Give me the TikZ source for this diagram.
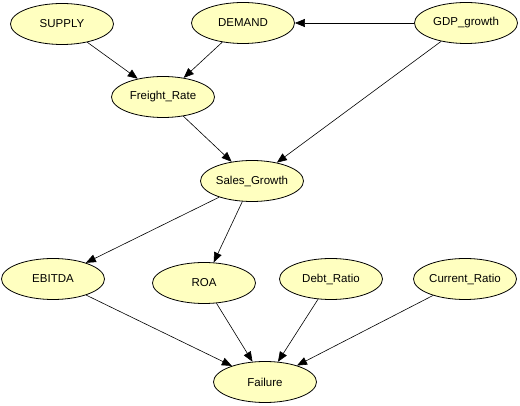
\documentclass[tikz,border=0pt]{standalone}
\usepackage{fontspec}
\setmainfont{Liberation Sans}
\usetikzlibrary{shapes.geometric,arrows.meta}
\definecolor{nodefill}{RGB}{255,255,192}
\begin{document}
\begin{tikzpicture}[x=1pt,y=-1pt,
  bnode/.style={ellipse,draw=black,line width=0.8pt,fill=nodefill,
    minimum width=103pt,minimum height=41pt,inner sep=0pt,
    font=\fontsize{11.5}{13}\selectfont},
  edge/.style={draw=black,line width=0.6pt,-{Triangle[length=10pt,width=8pt]}}]
\useasboundingbox (0,0) rectangle (520,406);
\node[bnode] (supply) at (62,24) {SUPPLY};
\node[bnode] (demand) at (243,23) {DEMAND};
\node[bnode] (gdp) at (466,23) {GDP\_growth};
\node[bnode] (freight) at (163,97) {Freight\_Rate};
\node[bnode] (sales) at (252,181) {Sales\_Growth};
\node[bnode] (ebitda) at (53,279) {EBITDA};
\node[bnode] (roa) at (204,283) {ROA};
\node[bnode] (debt) at (331,279) {Debt\_Ratio};
\node[bnode] (current) at (465,279) {Current\_Ratio};
\node[bnode] (failure) at (265,382) {Failure};
\draw[edge] (supply) -- (freight);
\draw[edge] (demand) -- (freight);
\draw[edge] (gdp) -- (demand);
\draw[edge] (gdp) -- (sales);
\draw[edge] (freight) -- (sales);
\draw[edge] (sales) -- (ebitda);
\draw[edge] (sales) -- (roa);
\draw[edge] (ebitda) -- (failure);
\draw[edge] (roa) -- (failure);
\draw[edge] (debt) -- (failure);
\draw[edge] (current) -- (failure);
\end{tikzpicture}
\end{document}
